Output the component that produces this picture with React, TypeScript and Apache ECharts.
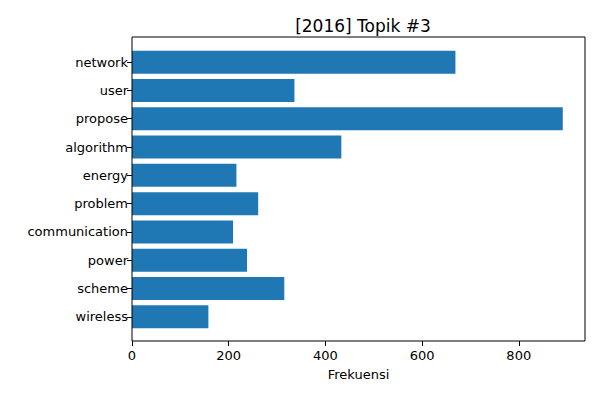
import { useEffect, useRef } from 'react';
import * as echarts from 'echarts';

const categories = ['network', 'user', 'propose', 'algorithm', 'energy', 'problem', 'communication', 'power', 'scheme', 'wireless'];
const values = [669, 336, 891, 433, 216, 261, 209, 238, 315, 158];
const xTicks = [0, 200, 400, 600, 800];

export default function App() {
  const chartRef = useRef<HTMLDivElement>(null);

  useEffect(() => {
    if (!chartRef.current) return;
    document.body.style.margin = '0';
    const chart = echarts.init(chartRef.current, undefined, { renderer: 'svg' });
    const font = 'DejaVu Sans';

    chart.setOption({
      animation: false,
      textStyle: { fontFamily: font },
      title: {
        text: '[2016] Topik #3',
        left: 358,
        top: 12,
        textAlign: 'center',
        textStyle: { fontFamily: font, fontSize: 17, fontWeight: 'normal', color: '#000' },
      },
      grid: { left: 132, top: 48, width: 453, height: 283 },
      xAxis: {
        type: 'value',
        min: 0,
        max: 937,
        interval: 200,
        offset: 10,
        name: 'Frekuensi',
        nameLocation: 'middle',
        nameGap: 27,
        nameTextStyle: { fontFamily: font, fontSize: 13, color: '#000' },
        axisLine: { show: false },
        axisTick: { show: true, length: 5, lineStyle: { color: '#000' } },
        axisLabel: {
          fontFamily: font,
          fontSize: 13,
          color: '#000',
          showMaxLabel: false,
          formatter: (v: number) => (xTicks.includes(v) ? String(v) : ''),
        },
        splitLine: { show: false },
      },
      yAxis: {
        type: 'category',
        data: categories,
        inverse: true,
        axisLine: { show: false },
        axisTick: { show: true, alignWithLabel: true, length: 5, lineStyle: { color: '#000' } },
        axisLabel: { fontFamily: font, fontSize: 13, color: '#000', margin: 4 },
      },
      series: [
        {
          type: 'bar',
          data: values,
          barWidth: 23,
          itemStyle: { color: '#1f77b4' },
        },
      ],
      graphic: [
        {
          type: 'rect',
          shape: { x: 132, y: 37, width: 453, height: 304 },
          style: { fill: 'none', stroke: '#000', lineWidth: 1 },
          z: 100,
        },
      ],
    });

    return () => chart.dispose();
  }, []);

  return <div ref={chartRef} style={{ width: '600px', height: '400px' }} />;
}
